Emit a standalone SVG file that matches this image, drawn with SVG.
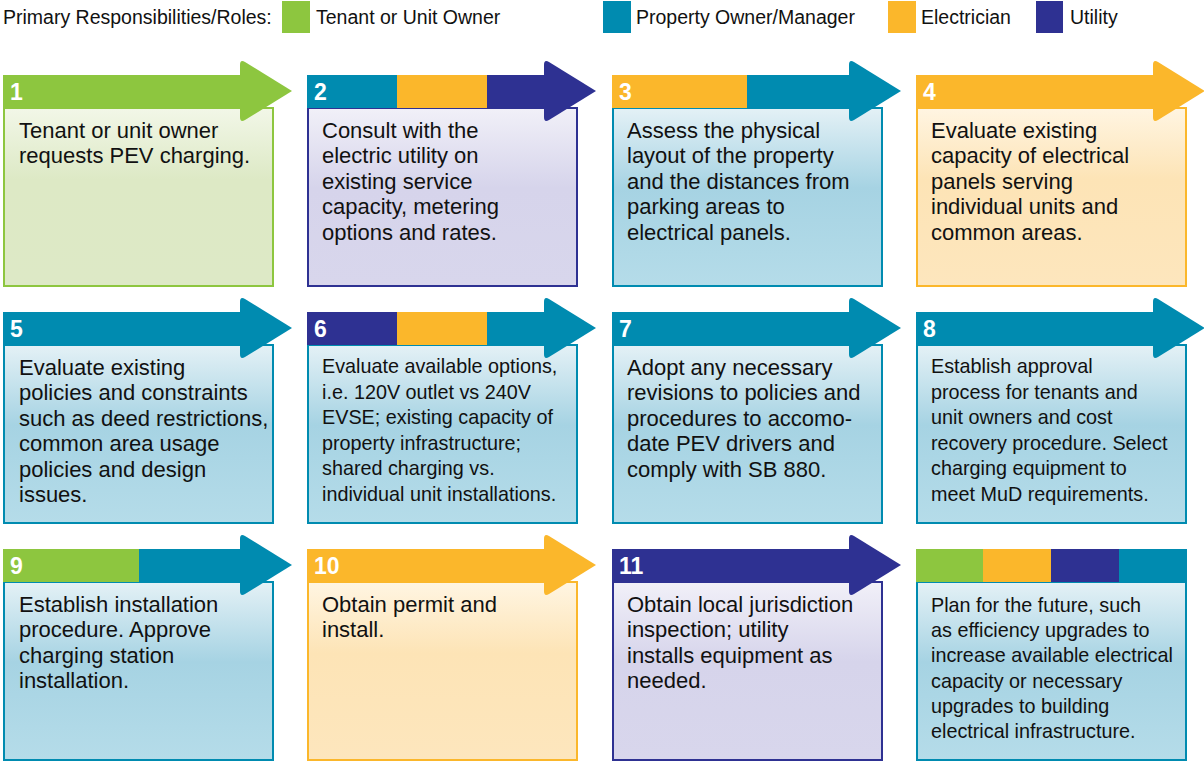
<svg xmlns="http://www.w3.org/2000/svg" width="1204" height="761" viewBox="0 0 1204 761">
<style>
.lg{font-family:"Liberation Sans",Arial,sans-serif;font-size:19.5px;fill:#111}
.num{font-family:"Liberation Sans",Arial,sans-serif;font-size:23px;font-weight:bold;fill:#fff}
.t{font-family:"Liberation Sans",Arial,sans-serif;font-size:22px;fill:#111}
.s{font-family:"Liberation Sans",Arial,sans-serif;font-size:19.8px;fill:#111}
.G{fill:#8dc63f}.B{fill:#008bb0}.O{fill:#fbb72b}.P{fill:#2e3192}
</style>
<defs>
<linearGradient id="gG" x1="0" y1="0" x2="0" y2="1"><stop offset="0" stop-color="#f2f7e8"/><stop offset="0.4" stop-color="#dde9c5"/><stop offset="1" stop-color="#dde9c6"/></linearGradient>
<linearGradient id="gB" x1="0" y1="0" x2="0" y2="1"><stop offset="0" stop-color="#e4f1f6"/><stop offset="0.45" stop-color="#a6d3e3"/><stop offset="1" stop-color="#b5dce9"/></linearGradient>
<linearGradient id="gO" x1="0" y1="0" x2="0" y2="1"><stop offset="0" stop-color="#fff5e2"/><stop offset="0.4" stop-color="#fde4b6"/><stop offset="1" stop-color="#fde6bd"/></linearGradient>
<linearGradient id="gP" x1="0" y1="0" x2="0" y2="1"><stop offset="0" stop-color="#f1f0f8"/><stop offset="0.45" stop-color="#d6d4eb"/><stop offset="1" stop-color="#d8d6ec"/></linearGradient>
</defs>
<rect width="1204" height="761" fill="#fff"/>
<g id="legend">
<text class="lg" x="3" y="24">Primary Responsibilities/Roles:</text>
<rect class="G" x="282" y="1" width="28" height="32"/><text class="lg" x="316" y="24">Tenant or Unit Owner</text>
<rect class="B" x="603" y="1" width="28" height="32"/><text class="lg" x="636" y="24">Property Owner/Manager</text>
<rect class="O" x="888" y="1" width="28" height="32"/><text class="lg" x="921" y="24">Electrician</text>
<rect class="P" x="1036" y="1" width="27" height="32"/><text class="lg" x="1070" y="24">Utility</text>
</g>
<g id="connectors"/>
<g id="step1">
<rect x="4" y="108" width="269" height="178" fill="url(#gG)" stroke="#8dc63f" stroke-width="2"/>
<rect class="G" x="3" y="75" width="238" height="33"/>
<path class="G" d="M240,65 Q240,59 245,62 L292,91 L245,120 Q240,123 240,117 Z"/>
<text class="num" x="10" y="100">1</text>
<text class="t"><tspan x="19" y="138">Tenant or unit owner</tspan><tspan x="19" y="163.4">requests PEV charging.</tspan></text>
</g>
<g id="step2">
<rect x="308" y="108" width="269" height="178" fill="url(#gP)" stroke="#2e3192" stroke-width="2"/>
<rect class="B" x="307" y="75" width="90" height="33"/>
<rect class="O" x="397" y="75" width="90" height="33"/>
<rect class="P" x="487" y="75" width="58" height="33"/>
<path class="P" d="M544,65 Q544,59 549,62 L596,91 L549,120 Q544,123 544,117 Z"/>
<text class="num" x="314" y="100">2</text>
<text class="t"><tspan x="322" y="138">Consult with the</tspan><tspan x="322" y="163.4">electric utility on</tspan><tspan x="322" y="188.8">existing service</tspan><tspan x="322" y="214.2">capacity, metering</tspan><tspan x="322" y="239.6">options and rates.</tspan></text>
</g>
<g id="step3">
<rect x="613" y="108" width="269" height="178" fill="url(#gB)" stroke="#008bb0" stroke-width="2"/>
<rect class="O" x="612" y="75" width="135" height="33"/>
<rect class="B" x="747" y="75" width="103" height="33"/>
<path class="B" d="M849,65 Q849,59 854,62 L901,91 L854,120 Q849,123 849,117 Z"/>
<text class="num" x="619" y="100">3</text>
<text class="t"><tspan x="627" y="138">Assess the physical</tspan><tspan x="627" y="163.4">layout of the property</tspan><tspan x="627" y="188.8">and the distances from</tspan><tspan x="627" y="214.2">parking areas to</tspan><tspan x="627" y="239.6">electrical panels.</tspan></text>
</g>
<g id="step4">
<rect x="917" y="108" width="269" height="178" fill="url(#gO)" stroke="#fbb72b" stroke-width="2"/>
<rect class="O" x="916" y="75" width="238" height="33"/>
<path class="O" d="M1153,65 Q1153,59 1158,62 L1205,91 L1158,120 Q1153,123 1153,117 Z"/>
<text class="num" x="923" y="100">4</text>
<text class="t"><tspan x="931" y="138">Evaluate existing</tspan><tspan x="931" y="163.4">capacity of electrical</tspan><tspan x="931" y="188.8">panels serving</tspan><tspan x="931" y="214.2">individual units and</tspan><tspan x="931" y="239.6">common areas.</tspan></text>
</g>
<g id="step5">
<rect x="4" y="345" width="269" height="178" fill="url(#gB)" stroke="#008bb0" stroke-width="2"/>
<rect class="B" x="3" y="312" width="238" height="33"/>
<path class="B" d="M240,302 Q240,296 245,299 L292,328 L245,357 Q240,360 240,354 Z"/>
<text class="num" x="10" y="337">5</text>
<text class="t"><tspan x="19" y="375">Evaluate existing</tspan><tspan x="19" y="400.4">policies and constraints</tspan><tspan x="19" y="425.8">such as deed restrictions,</tspan><tspan x="19" y="451.2">common area usage</tspan><tspan x="19" y="476.6">policies and design</tspan><tspan x="19" y="502">issues.</tspan></text>
</g>
<g id="step6">
<rect x="308" y="345" width="269" height="178" fill="url(#gB)" stroke="#008bb0" stroke-width="2"/>
<rect class="P" x="307" y="312" width="90" height="33"/>
<rect class="O" x="397" y="312" width="90" height="33"/>
<rect class="B" x="487" y="312" width="58" height="33"/>
<path class="B" d="M544,302 Q544,296 549,299 L596,328 L549,357 Q544,360 544,354 Z"/>
<text class="num" x="314" y="337">6</text>
<text class="s"><tspan x="322" y="373">Evaluate available options,</tspan><tspan x="322" y="398.6">i.e. 120V outlet vs 240V</tspan><tspan x="322" y="424.2">EVSE; existing capacity of</tspan><tspan x="322" y="449.8">property infrastructure;</tspan><tspan x="322" y="475.4">shared charging vs.</tspan><tspan x="322" y="501">individual unit installations.</tspan></text>
</g>
<g id="step7">
<rect x="613" y="345" width="269" height="178" fill="url(#gB)" stroke="#008bb0" stroke-width="2"/>
<rect class="B" x="612" y="312" width="238" height="33"/>
<path class="B" d="M849,302 Q849,296 854,299 L901,328 L854,357 Q849,360 849,354 Z"/>
<text class="num" x="619" y="337">7</text>
<text class="t"><tspan x="627" y="375">Adopt any necessary</tspan><tspan x="627" y="400.4">revisions to policies and</tspan><tspan x="627" y="425.8">procedures to accomo-</tspan><tspan x="627" y="451.2">date PEV drivers and</tspan><tspan x="627" y="476.6">comply with SB 880.</tspan></text>
</g>
<g id="step8">
<rect x="917" y="345" width="269" height="178" fill="url(#gB)" stroke="#008bb0" stroke-width="2"/>
<rect class="B" x="916" y="312" width="238" height="33"/>
<path class="B" d="M1153,302 Q1153,296 1158,299 L1205,328 L1158,357 Q1153,360 1153,354 Z"/>
<text class="num" x="923" y="337">8</text>
<text class="s"><tspan x="931" y="373">Establish approval</tspan><tspan x="931" y="398.6">process for tenants and</tspan><tspan x="931" y="424.2">unit owners and cost</tspan><tspan x="931" y="449.8">recovery procedure. Select</tspan><tspan x="931" y="475.4">charging equipment to</tspan><tspan x="931" y="501">meet MuD requirements.</tspan></text>
</g>
<g id="step9">
<rect x="4" y="582" width="269" height="178" fill="url(#gB)" stroke="#008bb0" stroke-width="2"/>
<rect class="G" x="3" y="549" width="136" height="33"/>
<rect class="B" x="139" y="549" width="102" height="33"/>
<path class="B" d="M240,539 Q240,533 245,536 L292,565 L245,594 Q240,597 240,591 Z"/>
<text class="num" x="10" y="574">9</text>
<text class="t"><tspan x="19" y="612">Establish installation</tspan><tspan x="19" y="637.4">procedure. Approve</tspan><tspan x="19" y="662.8">charging station</tspan><tspan x="19" y="688.2">installation.</tspan></text>
</g>
<g id="step10">
<rect x="308" y="582" width="269" height="178" fill="url(#gO)" stroke="#fbb72b" stroke-width="2"/>
<rect class="O" x="307" y="549" width="238" height="33"/>
<path class="O" d="M544,539 Q544,533 549,536 L596,565 L549,594 Q544,597 544,591 Z"/>
<text class="num" x="314" y="574">10</text>
<text class="t"><tspan x="322" y="612">Obtain permit and</tspan><tspan x="322" y="637.4">install.</tspan></text>
</g>
<g id="step11">
<rect x="613" y="582" width="269" height="178" fill="url(#gP)" stroke="#2e3192" stroke-width="2"/>
<rect class="P" x="612" y="549" width="238" height="33"/>
<path class="P" d="M849,539 Q849,533 854,536 L901,565 L854,594 Q849,597 849,591 Z"/>
<text class="num" x="619" y="574">11</text>
<text class="t"><tspan x="627" y="612">Obtain local jurisdiction</tspan><tspan x="627" y="637.4">inspection; utility</tspan><tspan x="627" y="662.8">installs equipment as</tspan><tspan x="627" y="688.2">needed.</tspan></text>
</g>
<g id="step12">
<rect x="917" y="582" width="269" height="178" fill="url(#gB)" stroke="#008bb0" stroke-width="2"/>
<rect class="G" x="916" y="549" width="67" height="33"/>
<rect class="O" x="983" y="549" width="68" height="33"/>
<rect class="P" x="1051" y="549" width="68" height="33"/>
<rect class="B" x="1119" y="549" width="68" height="33"/>
<text class="s"><tspan x="931" y="612">Plan for the future, such</tspan><tspan x="931" y="637.2">as efficiency upgrades to</tspan><tspan x="931" y="662.4">increase available electrical</tspan><tspan x="931" y="687.6">capacity or necessary</tspan><tspan x="931" y="712.8">upgrades to building</tspan><tspan x="931" y="738">electrical infrastructure.</tspan></text>
</g>
</svg>
